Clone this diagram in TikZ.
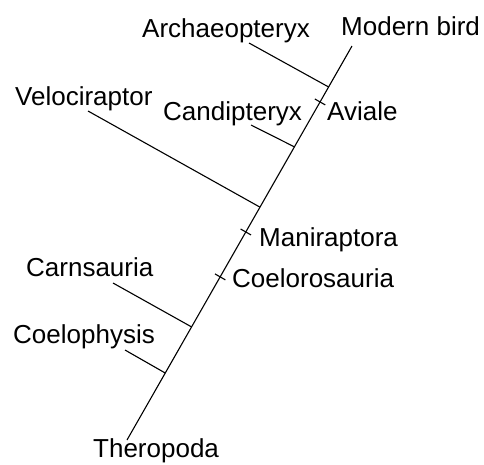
\documentclass[tikz,border=0pt]{standalone}
\usepackage{fontspec}
\setmainfont{Liberation Sans}
\usetikzlibrary{calc}

\begin{document}
\begin{tikzpicture}[x=1pt, y=-1pt,
        taxonLabel/.style={anchor=base west, inner sep=0pt, font=\fontsize{26}{30}\selectfont},
        branchLine/.style={line width=1.1pt, draw=black}
    ]
        \useasboundingbox (0,0) rectangle (484,464);

        % Main stem
        \coordinate (base) at (127,440);
        \coordinate (top) at (352,46);
        \draw[branchLine] (base) -- (top);

        % Taxon labels
        \node[taxonLabel] (archaeo) at (142,37) {Archaeopteryx};
        \node[taxonLabel] (modern) at (341,35) {Modern bird};
        \node[taxonLabel] (veloci) at (15,105) {Velociraptor};
        \node[taxonLabel] (candi) at (163,120) {Candipteryx};
        \node[taxonLabel] (aviale) at (327,120) {Aviale};
        \node[taxonLabel] (mani) at (259,246) {Maniraptora};
        \node[taxonLabel] (coeloro) at (232,287) {Coelorosauria};
        \node[taxonLabel] (carn) at (26,276) {Carnsauria};
        \node[taxonLabel] (coelo) at (13,343) {Coelophysis};
        \node[taxonLabel] (thero) at (93,457) {Theropoda};

        % Junctions on the stem
        \coordinate (archJoin) at ($(base)!0.896!(top)$);
        \coordinate (candiJoin) at ($(base)!0.744!(top)$);
        \coordinate (velociJoin) at ($(base)!0.591!(top)$);
        \coordinate (carnJoin) at ($(base)!0.287!(top)$);
        \coordinate (coeloJoin) at ($(base)!0.170!(top)$);

        % Branch tips
        \coordinate (archTip) at (249,43);
        \coordinate (candiTip) at (251,125);
        \coordinate (velociTip) at (88,111);
        \coordinate (carnTip) at (113,283);
        \coordinate (coeloTip) at (125,350);

        \draw[branchLine] (archTip) -- (archJoin);
        \draw[branchLine] (candiTip) -- (candiJoin);
        \draw[branchLine] (velociTip) -- (velociJoin);
        \draw[branchLine] (carnTip) -- (carnJoin);
        \draw[branchLine] (coeloTip) -- (coeloJoin);

        % Clade ticks
        \coordinate (aviTick) at ($(base)!0.858!(top)$);
        \coordinate (maniTick) at ($(base)!0.528!(top)$);
        \coordinate (coeloroTick) at ($(base)!0.414!(top)$);
        \draw[branchLine] ($(aviTick)!6pt!90:(top)$) -- ($(aviTick)!6pt!-90:(top)$);
        \draw[branchLine] ($(maniTick)!6pt!90:(top)$) -- ($(maniTick)!6pt!-90:(top)$);
        \draw[branchLine] ($(coeloroTick)!6pt!90:(top)$) -- ($(coeloroTick)!6pt!-90:(top)$);
    \end{tikzpicture}
\end{document}
